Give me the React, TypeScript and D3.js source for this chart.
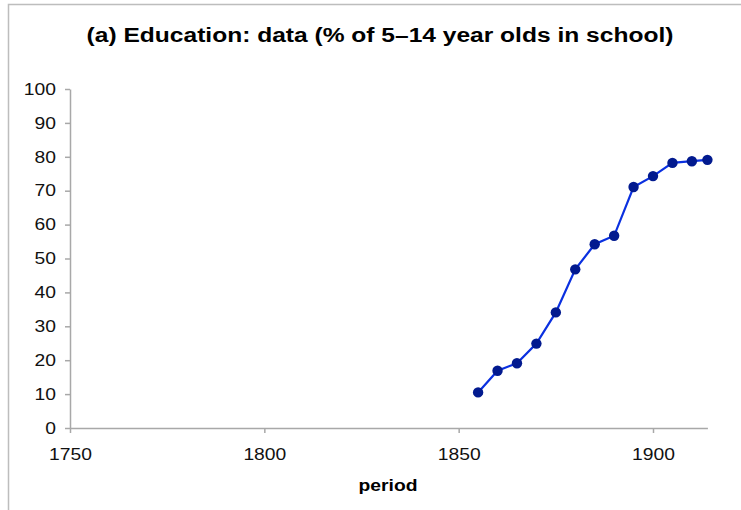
import React, { useEffect, useRef } from 'react';
import { select, scaleLinear, axisBottom, axisLeft, line } from 'd3';

const years: number[] = [1855, 1860, 1865, 1870, 1875, 1880, 1885, 1890, 1895, 1900, 1905, 1910, 1914];
const enrolled: number[] = [10.5, 16.9, 19.1, 24.9, 34.1, 46.8, 54.2, 56.7, 71.1, 74.3, 78.2, 78.7, 79.1];
const xTicks: number[] = [1750, 1800, 1850, 1900];
const yTicks: number[] = [0, 10, 20, 30, 40, 50, 60, 70, 80, 90, 100];

const dims = {
  width: 741,
  height: 510,
  left: 70,
  top: 89,
  bottom: 428
};

const font = '"Liberation Sans", Arial, Helvetica, sans-serif';
// the reference text is a bit wider than it is tall
const stretch = 1.17;

function App() {
  const svgRef = useRef<SVGSVGElement | null>(null);

  const x = scaleLinear().domain([1750, 1914]).range([dims.left, dims.left + (1914 - 1750) * (583 / 150)]);
  const y = scaleLinear().domain([0, 100]).range([dims.bottom, dims.top]);

  useEffect(() => {
    const svg = select(svgRef.current);
    svg.selectAll('*').remove();

    // frame edges (top and left only)
    svg.append('path')
      .attr('d', `M8.5,${dims.height} L8.5,4.5 L${dims.width},4.5`)
      .attr('fill', 'none')
      .attr('stroke', '#bdbdbd')
      .attr('stroke-width', 1.5);

    svg.append('text')
      .attr('transform', `translate(380, 42) scale(${stretch}, 1)`)
      .attr('text-anchor', 'middle')
      .attr('font-family', font)
      .attr('font-size', 21)
      .attr('font-weight', 'bold')
      .attr('fill', '#000')
      .text('(a) Education: data (% of 5–14 year olds in school)');

    const xAxisG = svg.append('g')
      .attr('transform', `translate(0, ${dims.bottom})`)
      .call(axisBottom(x).tickValues(xTicks).tickSize(5).tickSizeOuter(0).tickPadding(15).tickFormat(d => `${d}`));
    const yAxisG = svg.append('g')
      .attr('transform', `translate(${dims.left}, 0)`)
      .call(axisLeft(y).tickValues(yTicks).tickSize(5).tickSizeOuter(0).tickFormat(d => `${d}`));

    [xAxisG, yAxisG].forEach(g => {
      g.select('.domain').attr('stroke', '#a8a8a8').attr('stroke-width', 1.5);
      g.selectAll('.tick line').attr('stroke', '#a8a8a8').attr('stroke-width', 1.5);
      g.selectAll('.tick text')
        .attr('font-family', font)
        .attr('font-size', 16.5)
        .attr('fill', '#111')
        .attr('transform', `scale(${stretch}, 1)`);
    });
    yAxisG.selectAll('.tick text').attr('x', -14 / stretch);

    svg.append('text')
      .attr('transform', `translate(388, 491) scale(${stretch}, 1)`)
      .attr('text-anchor', 'middle')
      .attr('font-family', font)
      .attr('font-size', 16.5)
      .attr('font-weight', 'bold')
      .attr('fill', '#000')
      .text('period');

    const pts = years.map((yr, i) => [yr, enrolled[i]] as [number, number]);
    const path = line<[number, number]>().x(d => x(d[0])).y(d => y(d[1]));

    svg.append('path')
      .attr('d', path(pts))
      .attr('fill', 'none')
      .attr('stroke', '#0a30e0')
      .attr('stroke-width', 2.2);

    svg.append('g')
      .selectAll('circle')
      .data(pts)
      .enter()
      .append('circle')
      .attr('cx', d => x(d[0]))
      .attr('cy', d => y(d[1]))
      .attr('r', 5.2)
      .attr('fill', '#021a8f');
  }, []);

  return (
    <div>
      <svg
        ref={svgRef}
        width={dims.width}
        height={dims.height}
        style={{ position: 'absolute', left: 0, top: 0, background: '#fff' }}
      />
    </div>
  );
}

export default App;
